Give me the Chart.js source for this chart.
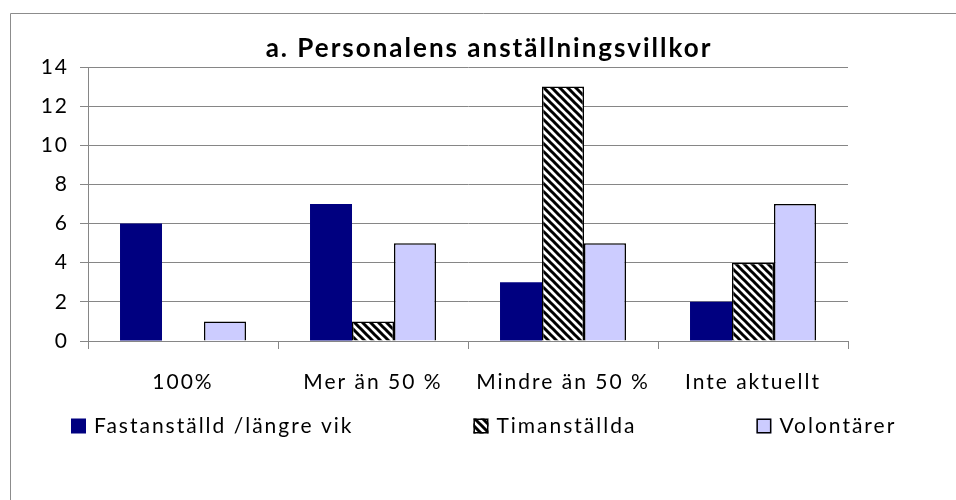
<!DOCTYPE html>
<html lang="sv">
<head>
<meta charset="UTF-8">
<title>Personalens anställningsvillkor</title>
<style>
    html, body { margin: 0; padding: 0; background: #fff; }
    #wrap { width: 956px; height: 500px; }
</style>
</head>
<body>
<div id="wrap"><canvas id="chart" width="956" height="500"></canvas></div>
<script src="https://cdn.jsdelivr.net/npm/chart.js"></script>
<script>
const titleText = 'a. Personalens anställningsvillkor';
const categories = ['100%', 'Mer än 50 %', 'Mindre än 50 %', 'Inte aktuellt'];
const seriesNames = ['Fastanställd /längre vik', 'Timanställda', 'Volontärer'];
const fastanstallda = [6, 7, 3, 2];
const timanstallda = [0, 1, 13, 4];
const volontarer = [1, 5, 5, 7];
const yTicks = [0, 2, 4, 6, 8, 10, 12, 14];

const canvas = document.getElementById('chart');
const gray = '#868686';
const labelFont = { family: 'Lato', size: 21 };

// black "\" stripes on white, like the Excel pattern fill
function makeHatch() {
    const c = document.createElement('canvas');
    c.width = c.height = 8;
    const g = c.getContext('2d');
    g.fillStyle = '#fff';
    g.fillRect(0, 0, 8, 8);
    g.strokeStyle = '#000';
    g.lineWidth = 3;
    g.beginPath();
    for (const o of [-8, 0, 8]) {
        g.moveTo(o - 2, -2);
        g.lineTo(o + 10, 10);
    }
    g.stroke();
    return canvas.getContext('2d').createPattern(c, 'repeat');
}
const hatch = makeHatch();

const frame = {
    id: 'frame',
    beforeDraw(chart) {
        const ctx = chart.ctx;
        ctx.letterSpacing = '2px';
        ctx.save();
        ctx.strokeStyle = '#8c8c8c';
        ctx.lineWidth = 1;
        ctx.beginPath();
        ctx.moveTo(10.5, chart.height);
        ctx.lineTo(10.5, 13.5);
        ctx.lineTo(chart.width, 13.5);
        ctx.stroke();
        ctx.restore();
    },
    afterDraw(chart) {
        const ctx = chart.ctx;
        ctx.save();
        ctx.fillStyle = '#000';
        ctx.font = 'bold 26px Lato';
        ctx.textAlign = 'center';
        ctx.textBaseline = 'alphabetic';
        ctx.fillText(titleText, 489, 57);

        // legend
        ctx.font = labelFont.size + 'px ' + labelFont.family;
        ctx.textAlign = 'left';
        ctx.textBaseline = 'middle';
        const box = 15, gap = 8, pad = 120, y = 426;
        const items = chart.data.datasets.map(d => ({ d, w: box + gap + ctx.measureText(d.label).width }));
        const total = items.reduce((a, it) => a + it.w, 0) + pad * (items.length - 1);
        let x = Math.round(484 - total / 2);
        items.forEach(it => {
            ctx.fillStyle = it.d.backgroundColor;
            ctx.fillRect(x, y - box / 2, box, box);
            if (it.d.borderWidth) {
                ctx.strokeStyle = '#000';
                ctx.lineWidth = 1.5;
                ctx.strokeRect(x + 0.75, y - box / 2 + 0.75, box - 1.5, box - 1.5);
            }
            ctx.fillStyle = '#000';
            ctx.fillText(it.d.label, x + box + gap, y);
            x += it.w + pad;
        });
        ctx.restore();
    }
};

new Chart(canvas, {
    type: 'bar',
    data: {
        labels: categories,
        datasets: [
            { label: seriesNames[0], data: fastanstallda, backgroundColor: '#000080', borderWidth: 0 },
            { label: seriesNames[1], data: timanstallda, backgroundColor: hatch, borderColor: '#000', borderWidth: 1.5 },
            { label: seriesNames[2], data: volontarer, backgroundColor: '#ccccff', borderColor: '#000', borderWidth: 1.5 }
        ]
    },
    options: {
        responsive: false,
        animation: false,
        devicePixelRatio: 1,
        categoryPercentage: 0.663,
        barPercentage: 1,
        layout: { padding: { left: 10, right: 108, top: 67, bottom: 99 } },
        plugins: {
            legend: { display: false },
            title: { display: false },
            tooltip: { enabled: false }
        },
        scales: {
            x: {
                offset: true,
                grid: { offset: true, drawOnChartArea: false, drawTicks: true, tickLength: 8, color: gray },
                border: { color: gray },
                ticks: { color: '#000', font: labelFont, padding: 21, maxRotation: 0, autoSkip: false },
                afterFit: s => { s.height = 60; }
            },
            y: {
                min: 0,
                max: 14,
                afterBuildTicks: s => { s.ticks = yTicks.map(v => ({ value: v })); },
                grid: { color: gray, tickLength: 8 },
                border: { color: gray },
                ticks: { color: '#000', font: labelFont, padding: 11 },
                afterFit: s => { s.width = 78; }
            }
        }
    },
    plugins: [frame]
});
</script>
</body>
</html>
